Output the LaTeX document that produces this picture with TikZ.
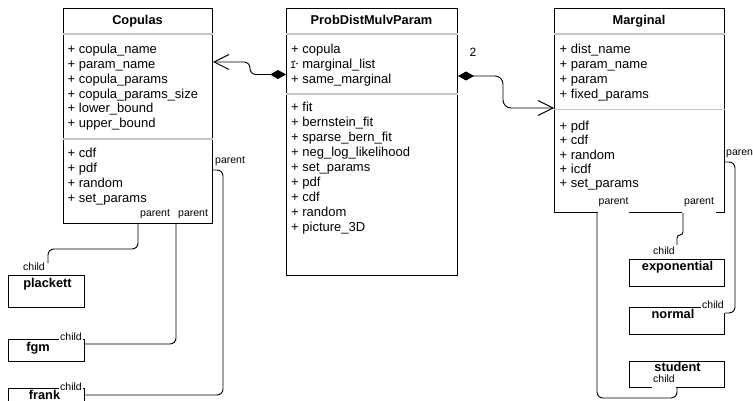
\documentclass[tikz,border=0pt]{standalone}
\usepackage{fontspec}
\setmainfont{Liberation Sans}
\usetikzlibrary{arrows.meta}
\begin{document}
\begin{tikzpicture}[x=1pt,y=-1pt,
  umlbox/.style={draw=black, line width=1pt, fill=white, inner sep=0, anchor=north west},
  sepline/.style={draw=gray!45, line width=1.3pt},
  ttl/.style={font=\fontsize{12.8}{15}\selectfont\bfseries, inner sep=0, anchor=base},
  mem/.style={font=\fontsize{13}{15}\selectfont, inner sep=0, anchor=base west},
  lbl/.style={font=\fontsize{10.5}{12}\selectfont, inner xsep=1pt, inner ysep=0.5pt, fill=white, anchor=base west},
  conn/.style={draw=black, line width=0.9pt, rounded corners=6pt},
  comp/.style={conn, {Diamond[length=16pt,width=9pt]}-{Straight Barb[length=15pt,width=15pt,line width=0.9pt]}}
]
\fill[white] (0,0) rectangle (753,401);
\useasboundingbox (0,0) rectangle (753,401);

% ---- class boxes
\node[umlbox, minimum width=149pt, minimum height=215pt] (cop) at (63,8) {};
\node[umlbox, minimum width=171pt, minimum height=267pt] (pdm) at (286,8) {};
\node[umlbox, minimum width=170pt, minimum height=204pt] (mar) at (554,8) {};
\node[umlbox, minimum width=76pt, minimum height=32pt] (plackett) at (8,275) {};
\node[umlbox, minimum width=76pt, minimum height=22pt] (fgm) at (8,339) {};
\node[umlbox, minimum width=76pt, minimum height=25pt] (frank) at (8,388) {};
\node[umlbox, minimum width=95pt, minimum height=27pt] (expo) at (629,259) {};
\node[umlbox, minimum width=95pt, minimum height=27pt] (normal) at (629,307) {};
\node[umlbox, minimum width=95pt, minimum height=26pt] (student) at (629,361) {};

% ---- separators
\draw[sepline] (cop.west |- 0,34) -- (cop.east |- 0,34);
\draw[sepline] (cop.west |- 0,139) -- (cop.east |- 0,139);
\draw[sepline] (pdm.west |- 0,34) -- (pdm.east |- 0,34);
\draw[sepline] (pdm.west |- 0,94) -- (pdm.east |- 0,94);
\draw[sepline] (mar.west |- 0,34) -- (mar.east |- 0,34);
\draw[sepline] (mar.west |- 0,109.5) -- (mar.east |- 0,109.5);

% ---- titles
\node[ttl] (tcop) at (137.5,24.6) {Copulas};
\node[ttl] (tpdm) at (371.5,24.6) {ProbDistMulvParam};
\node[ttl] (tmar) at (639,24.6) {Marginal};
\node[ttl] (tpla) at (47.5,287.6) {plackett};
\node[ttl] (tfgm) at (38,351.3) {fgm};
\node[ttl] (tfra) at (44.5,399.4) {frank};
\node[ttl] (texp) at (677.5,270.6) {exponential};
\node[ttl] (tnor) at (673,318.6) {normal};
\node[ttl] (tstu) at (677.5,371.6) {student};

% ---- members
\foreach \t [count=\i from 0] in {copula\_name, param\_name, copula\_params, copula\_params\_size, lower\_bound, upper\_bound}
  \node[mem] (ca\i) at (67.5,53.8+14.8*\i) {+ \t};
\foreach \t [count=\i from 0] in {cdf, pdf, random, set\_params}
  \node[mem] (cm\i) at (67.5,157.8+14.9*\i) {+ \t};
\foreach \t [count=\i from 0] in {copula, marginal\_list, same\_marginal}
  \node[mem] (pa\i) at (291,53.8+15*\i) {+ \t};
\foreach \t [count=\i from 0] in {fit, bernstein\_fit, sparse\_bern\_fit, neg\_log\_likelihood, set\_params, pdf, cdf, random, picture\_3D}
  \node[mem] (pm\i) at (291,111.8+15*\i) {+ \t};
\foreach \t [count=\i from 0] in {dist\_name, param\_name, param, fixed\_params}
  \node[mem] (ma\i) at (559.5,53.8+15*\i) {+ \t};
\foreach \t [count=\i from 0] in {pdf, cdf, random, icdf, set\_params}
  \node[mem] (mm\i) at (559.5,130.3+14.4*\i) {+ \t};

% ---- role labels
\node[lbl] (lp1) at (139,216.7) {parent};
\node[lbl] (lp2) at (177,216.7) {parent};
\node[lbl] (lp3) at (214,163.7) {parent};
\node[lbl] (lc1) at (22,270.8) {child};
\node[lbl, text depth=4pt] (lc2) at (59,340) {child};
\node[lbl, text depth=4pt] (lc3) at (59,390) {child};
\node[lbl, text depth=8.8pt] (lp4) at (597.5,204.7) {parent};
\node[lbl, text depth=8.8pt, inner xsep=2.5pt] (lp5) at (681.5,204.7) {parent};
\node[lbl] (lp6) at (725,155.7) {parent};
\node[lbl] (lc4) at (652,254.5) {child};
\node[lbl, text depth=4pt] (lc5) at (701,308.8) {child};
\node[lbl, text depth=5.5pt] (lc6) at (652,382.8) {child};
\node[font=\fontsize{12}{14}\selectfont, inner sep=0, anchor=base] (m2) at (473,56.3) {2};
\node[lbl, inner xsep=0.3pt, inner ysep=0pt] (m1) at (289.5,68.8) {1};

% ---- connectors
\draw[comp] (pdm.west |- 0,74.5) -- (250,74.5) -- (250,62) -- (cop.east |- 0,62);
\draw[comp, rounded corners=8pt] (pdm.east |- 0,76) -- (503,76) -- (503,108) -- (mar.west |- 0,108);
\coordinate (plaend) at (48,263);
\draw[conn] (cop.south -| 138,0) -- (138,249) -- (48,249) -- (plaend);
\draw[conn] (cop.south -| 176,0) -- (176,344) -- (fgm.east |- 0,344);
\draw[conn] (cop.east |- 0,170) -- (223,170) -- (223,395) -- (frank.east |- 0,395);
\coordinate (expend) at (677,245);
\draw[conn, rounded corners=3pt] (mar.south -| 683,0) -- (683,235) -- (677,235) -- (expend);
\draw[conn] (mar.east |- 0,162) -- (735,162) -- (735,313) -- (normal.east |- 0,313);
\draw[conn] (mar.south -| 597,0) -- (597,398) -- (677,398) -- (student.south -| 677,0);
\end{tikzpicture}
\end{document}
